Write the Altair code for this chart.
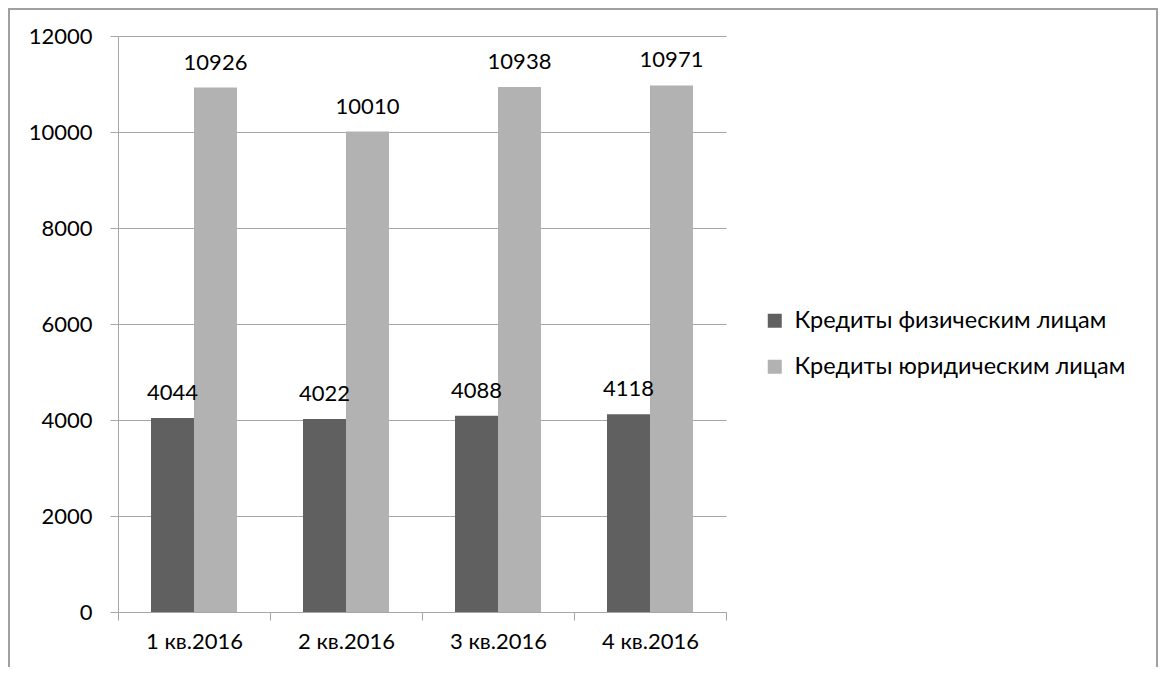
import altair as alt
import pandas as pd

quarters = ["1 кв.2016", "2 кв.2016", "3 кв.2016", "4 кв.2016"]
series_names = ["Кредиты физическим лицам", "Кредиты юридическим лицам"]
individuals = [4044, 4022, 4088, 4118]
legal = [10926, 10010, 10938, 10971]
y_ticks = [0, 2000, 4000, 6000, 8000, 10000, 12000]

rows = []
for q, a, b in zip(quarters, individuals, legal):
    rows.append({"quarter": q, "series": series_names[0], "value": a})
    rows.append({"quarter": q, "series": series_names[1], "value": b})
df = pd.DataFrame(rows)

FONT = "Lato"
FS = 22

x_enc = alt.X("quarter:N", sort=quarters, title=None,
              scale=alt.Scale(paddingInner=0, paddingOuter=0),
              axis=alt.Axis(labelAngle=0, tickBand="extent", domainColor="#a6a6a6",
                            tickColor="#a6a6a6", tickSize=8, labelPadding=11,
                            labelFontSize=FS, labelFont=FONT, labelColor="#000000",
                            grid=False))
xoff = alt.XOffset("series:N", sort=series_names,
                   scale=alt.Scale(paddingInner=0, paddingOuter=0.767))
y_enc = alt.Y("value:Q", title=None,
              scale=alt.Scale(domain=[0, 12000], nice=False),
              axis=alt.Axis(values=y_ticks, format="d", grid=True, gridColor="#a6a6a6",
                            domainColor="#a6a6a6", tickColor="#a6a6a6", tickSize=8,
                            labelPadding=18, labelFontSize=FS, labelFont=FONT,
                            labelColor="#000000"))

color = alt.Color("series:N", sort=series_names, title=None,
                  scale=alt.Scale(domain=series_names, range=["#606060", "#b2b2b2"]),
                  legend=alt.Legend(orient="none", legendX=645, legendY=273,
                                    symbolType="square", symbolSize=196,
                                    symbolStrokeWidth=0, labelFontSize=23.5,
                                    labelFont=FONT, labelColor="#000000", labelLimit=0,
                                    rowPadding=21, labelOffset=8))

bars = alt.Chart(df).mark_bar(size=43).encode(x=x_enc, xOffset=xoff, y=y_enc, color=color)

labels = alt.Chart(df).mark_text(
    baseline="alphabetic", dy=-18, fontSize=FS, font=FONT, color="#000000"
).encode(x=x_enc, xOffset=xoff, y=y_enc, text=alt.Text("value:Q", format="d"))

frame = alt.Chart(pd.DataFrame({"a": [0]})).mark_rect(
    fill=None, stroke="#a0a0a0", strokeWidth=2
).encode(x=alt.value(-109), x2=alt.value(1039), y=alt.value(-27), y2=alt.value(700))

chart = alt.layer(frame, bars, labels).properties(
    width=608, height=576,
    autosize=alt.AutoSizeParams(type="none"),
    padding={"left": 110, "top": 28, "right": 432, "bottom": 55},
).configure(background="white", view=alt.ViewConfig(stroke="transparent", strokeWidth=0))

chart.save("out.html", embed_options={"renderer": "svg", "actions": False})
